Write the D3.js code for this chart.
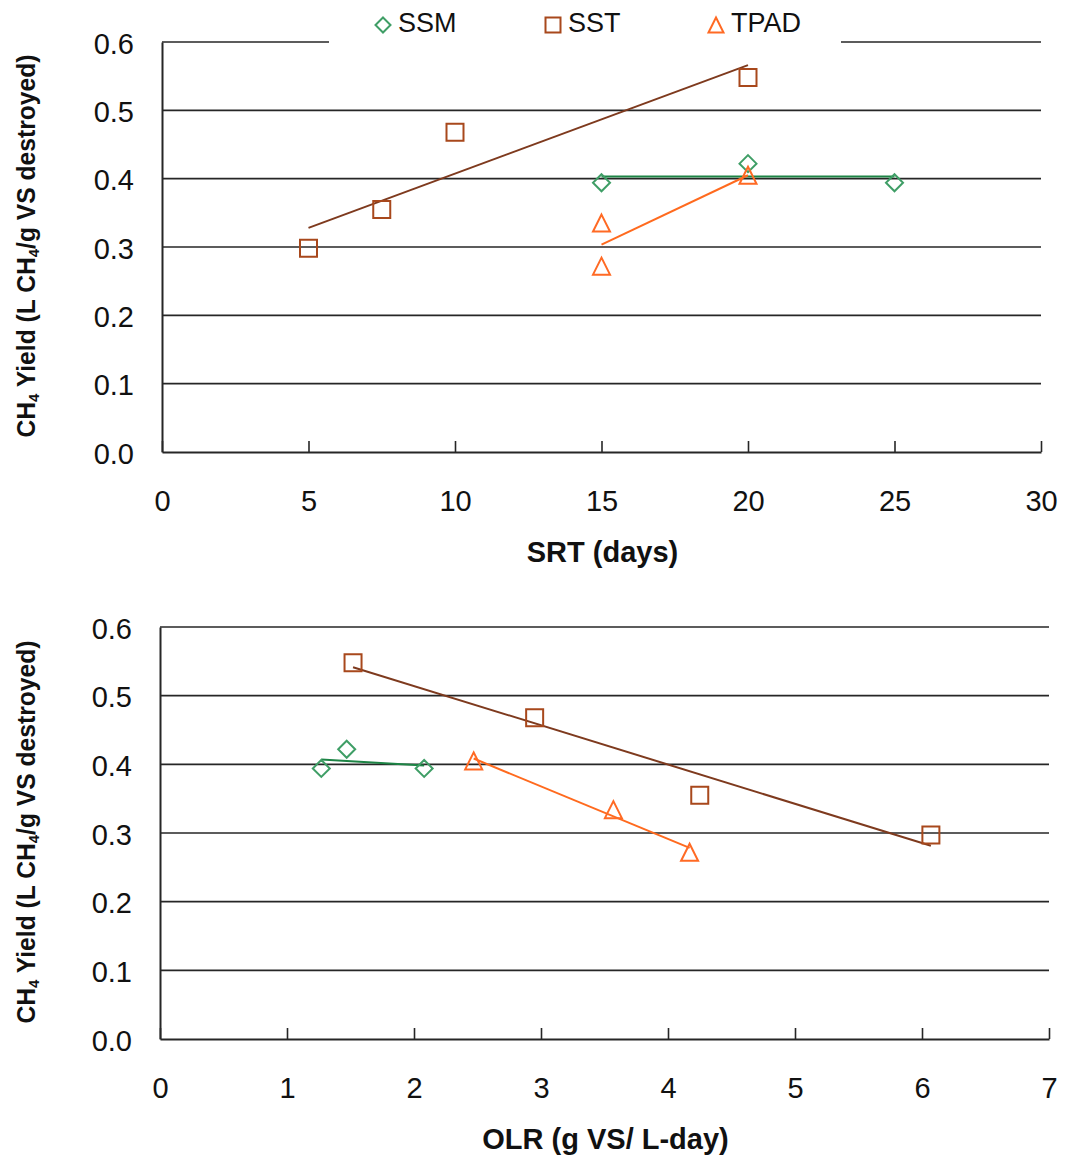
<html>
<head>
<script src="https://d3js.org/d3.v7.min.js"></script>
<style>
    html, body {
        margin: 0;
        padding: 0;
        background: #fff;
    }
    text {
        font-family: "Liberation Sans", Arial, sans-serif;
        fill: #111;
    }
</style>
</head>
<body>
<script>
    var width = 1065;
    var height = 1162;

    // series names and colours
    var seriesNames = ["SSM", "SST", "TPAD"];
    var markerColor = { SSM: "#3f9e66", SST: "#a8481c", TPAD: "#ff6a24" };
    var lineColor = { SSM: "#1d8445", SST: "#7e3a1e", TPAD: "#ff6a1e" };
    var markerType = { SSM: "diamond", SST: "square", TPAD: "triangle" };

    // top chart: SRT (days)
    var srtTicks = [0, 5, 10, 15, 20, 25, 30];
    var srtSSM_x = [15, 20, 25];
    var srtSSM_y = [0.394, 0.422, 0.394];
    var srtSST_x = [5, 7.5, 10, 20];
    var srtSST_y = [0.298, 0.355, 0.468, 0.548];
    var srtTPAD_x = [15, 15, 20];
    var srtTPAD_y = [0.335, 0.272, 0.405];

    // bottom chart: OLR (g VS/ L-day)
    var olrTicks = [0, 1, 2, 3, 4, 5, 6, 7];
    var olrSSM_x = [1.27, 1.47, 2.08];
    var olrSSM_y = [0.394, 0.422, 0.394];
    var olrSST_x = [1.52, 2.95, 4.25, 6.07];
    var olrSST_y = [0.548, 0.468, 0.355, 0.297];
    var olrTPAD_x = [2.47, 3.57, 4.17];
    var olrTPAD_y = [0.405, 0.334, 0.272];

    var yTicks = [0, 0.1, 0.2, 0.3, 0.4, 0.5, 0.6];

    var svg = d3.select("body").append("svg")
        .attr("width", width)
        .attr("height", height);

    function markerPath(type, s) {
        var h = s / 2;
        if (type == "square") {
            return "M" + (-h) + "," + (-h) + "H" + h + "V" + h + "H" + (-h) + "Z";
        }
        if (type == "diamond") {
            return "M0," + (-h) + "L" + h + ",0L0," + h + "L" + (-h) + ",0Z";
        }
        // triangle
        return "M0," + (-h) + "L" + h + "," + h + "L" + (-h) + "," + h + "Z";
    }

    function fit(xs, ys) {
        var mx = d3.mean(xs), my = d3.mean(ys);
        var sxy = 0, sxx = 0;
        for (var i = 0; i < xs.length; i++) {
            sxy += (xs[i] - mx) * (ys[i] - my);
            sxx += (xs[i] - mx) * (xs[i] - mx);
        }
        var slope = sxy / sxx;
        var x0 = d3.min(xs), x1 = d3.max(xs);
        return [[x0, my + slope * (x0 - mx)], [x1, my + slope * (x1 - mx)]];
    }

    function drawChart(cfg) {
        var g = svg.append("g");
        var x = d3.scaleLinear().domain([cfg.xTicks[0], cfg.xTicks[cfg.xTicks.length - 1]]).range([cfg.left, cfg.right]);
        var y = d3.scaleLinear().domain([0, 0.6]).range([cfg.bottom, cfg.top]);

        // horizontal grid lines
        g.selectAll(".grid").data(yTicks.slice(1)).enter().append("line")
            .attr("x1", cfg.left).attr("x2", cfg.right)
            .attr("y1", function (d) { return y(d); })
            .attr("y2", function (d) { return y(d); })
            .attr("stroke", "#262626")
            .attr("stroke-width", 1.6);

        // x axis with ticks pointing up
        var xAxis = g.append("g")
            .attr("transform", "translate(0," + cfg.bottom + ")")
            .call(d3.axisBottom(x).tickValues(cfg.xTicks).tickSizeInner(-11).tickSizeOuter(0).tickFormat(d3.format("d")));
        xAxis.select(".domain").attr("stroke", "#262626").attr("stroke-width", 2);
        xAxis.selectAll(".tick line").attr("stroke", "#262626").attr("stroke-width", 1.6);
        xAxis.selectAll(".tick text")
            .attr("y", 59).attr("dy", 0)
            .attr("font-size", 29)
            .attr("font-family", "'Liberation Sans', Arial, sans-serif")
            .attr("fill", "#111");

        // y axis
        var yAxis = g.append("g")
            .attr("transform", "translate(" + cfg.left + ",0)")
            .call(d3.axisLeft(y).tickValues(yTicks).tickSize(0).tickPadding(28).tickFormat(d3.format(".1f")));
        yAxis.select(".domain").attr("stroke", "#262626").attr("stroke-width", 2);
        yAxis.selectAll(".tick text")
            .attr("dy", "0.38em")
            .attr("font-size", 29)
            .attr("font-family", "'Liberation Sans', Arial, sans-serif")
            .attr("fill", "#111");

        // axis titles
        g.append("text")
            .attr("x", (cfg.left + cfg.right) / 2 + 1)
            .attr("y", cfg.bottom + 110)
            .attr("text-anchor", "middle")
            .attr("font-size", 29)
            .attr("font-weight", "bold")
            .text(cfg.xTitle);

        var yt = g.append("text")
            .attr("transform", "translate(35," + cfg.yMid + ") rotate(-90)")
            .attr("text-anchor", "middle")
            .attr("font-size", 25)
            .attr("font-weight", "bold")
            .attr("textLength", 383)
            .attr("lengthAdjust", "spacingAndGlyphs");
        yt.append("tspan").text("CH");
        yt.append("tspan").attr("font-size", 15).attr("dy", 4).text("4");
        yt.append("tspan").attr("dy", -4).text(" Yield (L CH");
        yt.append("tspan").attr("font-size", 15).attr("dy", 4).text("4");
        yt.append("tspan").attr("dy", -4).text("/g VS destroyed)");

        // trend lines then markers
        cfg.series.forEach(function (s) {
            var pts = fit(s.x, s.y);
            g.append("line")
                .attr("x1", x(pts[0][0])).attr("y1", y(pts[0][1]))
                .attr("x2", x(pts[1][0])).attr("y2", y(pts[1][1]))
                .attr("stroke", lineColor[s.name])
                .attr("stroke-width", 2);
        });
        cfg.series.forEach(function (s) {
            g.selectAll(null).data(d3.range(s.x.length)).enter().append("path")
                .attr("transform", function (i) { return "translate(" + x(s.x[i]) + "," + y(s.y[i]) + ")"; })
                .attr("d", markerPath(markerType[s.name], 17))
                .attr("fill", "none")
                .attr("stroke", markerColor[s.name])
                .attr("stroke-width", 2);
        });
        return g;
    }

    var topChart = drawChart({
        left: 162, right: 1041, top: 42, bottom: 452, yMid: 246,
        xTicks: srtTicks, xTitle: "SRT (days)",
        series: [
            { name: "SSM", x: srtSSM_x, y: srtSSM_y },
            { name: "SST", x: srtSST_x, y: srtSST_y },
            { name: "TPAD", x: srtTPAD_x, y: srtTPAD_y }
        ]
    });

    drawChart({
        left: 160, right: 1049, top: 627, bottom: 1039, yMid: 832,
        xTicks: olrTicks, xTitle: "OLR (g VS/ L-day)",
        series: [
            { name: "SSM", x: olrSSM_x, y: olrSSM_y },
            { name: "SST", x: olrSST_x, y: olrSST_y },
            { name: "TPAD", x: olrTPAD_x, y: olrTPAD_y }
        ]
    });

    // legend over the top chart, it hides part of the 0.6 line
    var legend = topChart.append("g");
    legend.append("rect")
        .attr("x", 329).attr("y", 2).attr("width", 512).attr("height", 50)
        .attr("fill", "#fff");
    var legendX = [383, 553, 716];
    seriesNames.forEach(function (name, i) {
        legend.append("path")
            .attr("transform", "translate(" + legendX[i] + ",25)")
            .attr("d", markerPath(markerType[name], 15))
            .attr("fill", "none")
            .attr("stroke", markerColor[name])
            .attr("stroke-width", 2);
        legend.append("text")
            .attr("x", legendX[i] + 15)
            .attr("y", 32)
            .attr("font-size", 27)
            .attr("fill", "#222")
            .text(name);
    });
</script>
</body>
</html>
